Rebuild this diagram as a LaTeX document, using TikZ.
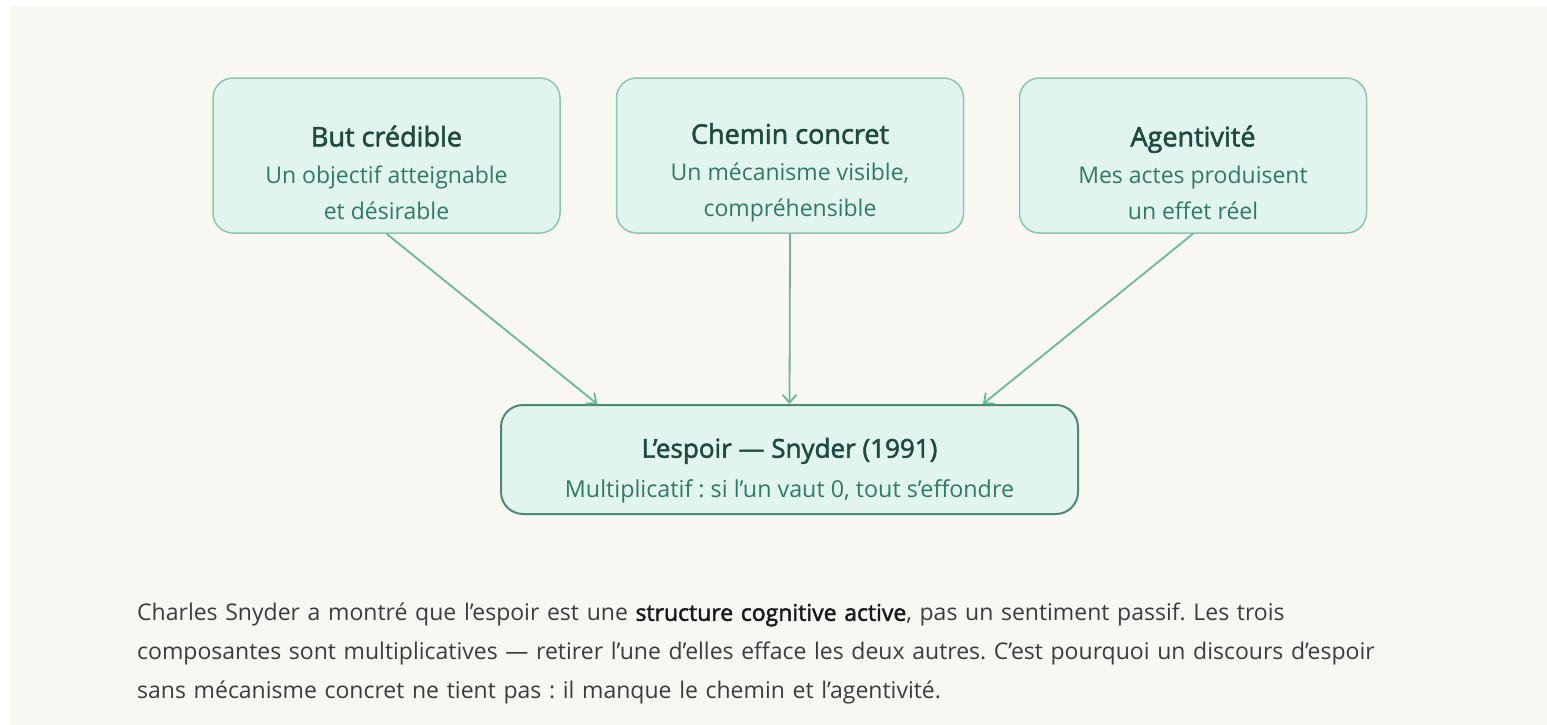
\documentclass[tikz,border=0pt]{standalone}
\usepackage{fontspec}
\setmainfont{Open Sans}
\newfontfamily\semibold{Open Sans}[FakeBold=2]
\usetikzlibrary{positioning, arrows.meta, calc}

\definecolor{paper}{HTML}{F8F7F4}
\definecolor{mint}{HTML}{E2F4EE}
\definecolor{mintline}{HTML}{8CC5B0}
\definecolor{deepline}{HTML}{4C8A78}
\definecolor{arrowgreen}{HTML}{6AB89C}
\definecolor{headgreen}{HTML}{1E4A40}
\definecolor{subgreen}{HTML}{2F7A64}
\definecolor{bodygray}{HTML}{3C3C3C}

\newcommand{\boxhead}{\semibold\fontsize{27}{30}\selectfont\color{headgreen}}

\begin{document}
\frenchspacing
\begin{tikzpicture}[
    x=1pt, y=-1pt,
    topbox/.style={rectangle, draw=mintline, line width=1.5pt, fill=mint, rounded corners=20pt,
        minimum width=347pt, minimum height=155pt, align=center, text=subgreen,
        font=\fontsize{23}{36}\selectfont},
    hopebox/.style={rectangle, draw=deepline, line width=2pt, fill=mint, rounded corners=22pt,
        minimum width=577pt, minimum height=109pt, align=center, text=subgreen,
        font=\fontsize{23.3}{26}\selectfont},
    link/.style={-{Straight Barb[length=8pt, width=14pt]}, draw=arrowgreen, line width=1.8pt},
    body/.style={anchor=north west, inner sep=0pt, text width=1350pt, align=left, text=bodygray,
        font=\fontsize{23}{39}\selectfont}
]

% Page
\fill[white] (0,0) rectangle (1547,725);
\fill[paper] (10,6) rectangle (1547,725);
\useasboundingbox (0,0) rectangle (1547,725);

% The three components
\node[topbox] (goal) at (386.5,155.5) {\rule{0pt}{55pt}{\boxhead But crédible}\\[1pt] Un objectif atteignable\\ et désirable};
\node[topbox] (path) at (790,155.5) {\rule{0pt}{55pt}{\boxhead Chemin concret}\\[1pt] Un mécanisme visible,\\ compréhensible};
\node[topbox] (agency) at (1193,155.5) {\rule{0pt}{55pt}{\boxhead Agentivité}\\[1pt] Mes actes produisent\\ un effet réel};

% Hope
\node[hopebox] (hope) at (789.5,459.5) {\rule{0pt}{42pt}{\boxhead\fontsize{26}{30}\selectfont L’espoir — Snyder (1991)}\\[14pt] Multiplicatif : si l’un vaut 0, tout s’effondre};
\coordinate (hopeL) at ($(hope.north west)!0.168!(hope.north east)$);
\coordinate (hopeR) at ($(hope.north west)!0.834!(hope.north east)$);

% Arrows
\draw[link] (goal.south) -- (hopeL);
\draw[link] (path.south) -- (hope.north);
\draw[link] (agency.south) -- (hopeR);

% Caption
\node[body] (caption) at (137,603) {Charles Snyder a montré que l’espoir est une {\semibold\color{black!90}structure cognitive active}, pas un sentiment passif. Les trois\\
composantes sont multiplicatives — retirer l’une d’elles efface les deux autres. C’est pourquoi un discours d’espoir\\
sans mécanisme concret ne tient pas : il manque le chemin et l’agentivité.};
\end{tikzpicture}
\end{document}
